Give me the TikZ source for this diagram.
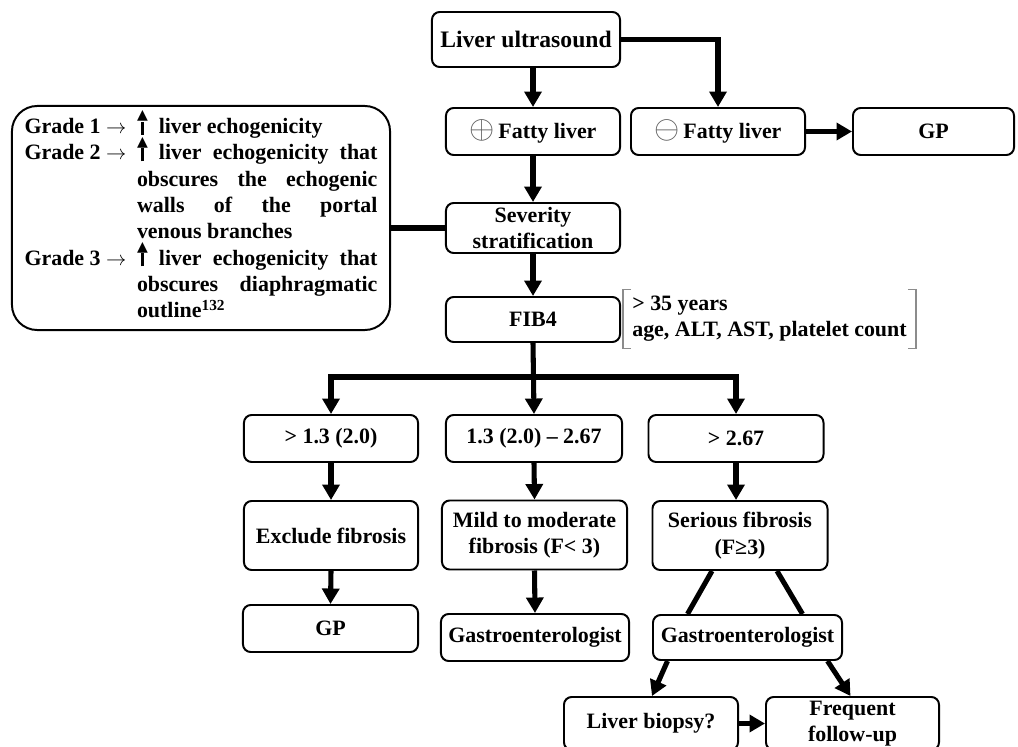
\documentclass[tikz,border=0pt]{standalone}
\usepackage{fontspec}
\setmainfont{Liberation Serif}
\newfontfamily\symfont{DejaVu Sans}
\usepackage{amsmath}
\usepackage{graphicx}
\usetikzlibrary{arrows.meta,calc}
\def\upbold{\raisebox{-1pt}[11pt][0pt]{\vbox{\offinterlineskip\halign{\hfil##\hfil\cr{\symfont\fontsize{10}{10}\selectfont ▲}\cr\rule{2.6pt}{9.5pt}\cr}}}}
\def\circsign#1{\textcolor{black!65}{\scalebox{1.6}{$#1$}}\,}
\def\hangrow#1#2#3{\makebox[80pt][l]{#1}\makebox[171pt][#2]{#3}}
\tikzset{
	box/.style={draw, line width=1.4pt, rounded corners=5.5pt, inner sep=2pt, align=center, font=\fontsize{15.6}{18.7}\selectfont\bfseries},
	note/.style={align=left, inner xsep=6.4pt, minimum height=1.45cm, font=\fontsize{15.6}{18.7}\selectfont\bfseries},
	bracket/.style={draw=black!45, line width=0.8pt},
	flow/.style={line width=3.6pt, -{Triangle[length=11pt,width=12pt]}},
	link/.style={line width=3.6pt},
}

\begin{document}
\begin{tikzpicture}[x=0.025cm, y=-0.025cm]
			%%%%% START %%%%%
			\useasboundingbox (0,0) rectangle (1018,747);
			
			\node[box, minimum width=4.7cm, minimum height=1.375cm, font=\fontsize{16.8}{20}\selectfont\bfseries] (lu) at (526,39.5) {Liver ultrasound};
			\node[box, minimum width=4.35cm, minimum height=1.175cm] (pfat) at (533,131.5) {\circsign{\oplus}Fatty liver};
			\node[box, minimum width=4.35cm, minimum height=1.175cm] (nfat) at (718,131.5) {\circsign{\ominus}Fatty liver};
			\node[box, minimum width=4.025cm, minimum height=1.175cm] (gpa) at (933.5,131.5) {GP};
			
			\node[box, minimum width=4.35cm, minimum height=1.25cm] (sev) at (533,228) {Severity\\stratification};
			\node[box, minimum width=4.35cm, minimum height=1.125cm] (fib) at (533,319.5) {FIB4};
			\node[note, anchor=west] (fibnote) at (623,319) {> 35 years\\age, ALT, AST, platelet count};
			
			\node[box, rounded corners=18pt, minimum width=9.45cm, minimum height=5.6cm, align=left, inner xsep=8.5pt] (grades) at (201,218) {%
				\hangrow{Grade 1 $\rightarrow$}{l}{\upbold\ \ liver echogenicity}\\
				\hangrow{Grade 2 $\rightarrow$}{s}{\upbold\ liver echogenicity that}\\
				\hangrow{}{s}{obscures the echogenic}\\
				\hangrow{}{s}{walls of the portal}\\
				\hangrow{}{l}{venous branches}\\
				\hangrow{Grade 3 $\rightarrow$}{s}{\upbold\ liver echogenicity that}\\
				\hangrow{}{s}{obscures diaphragmatic}\\
				\hangrow{}{l}{outline\textsuperscript{132}}};
			
			\node[box, minimum width=4.35cm, minimum height=1.175cm] (low) at (331,438.5) {> 1.3 (2.0)};
			\node[box, minimum width=4.4cm, minimum height=1.175cm] (mid) at (534,438.5) {1.3 (2.0) -- 2.67};
			\node[box, minimum width=4.375cm, minimum height=1.175cm] (high) at (736,438.5) {> 2.67};
			
			\node[box, minimum width=4.35cm, minimum height=1.725cm] (excl) at (331,535.5) {Exclude fibrosis};
			\node[box, minimum width=4.625cm, minimum height=1.725cm] (mild) at (534.5,535) {Mild to moderate\\fibrosis (F< 3)};
			\node[box, minimum width=4.375cm, minimum height=1.725cm] (serious) at (740,535.5) {Serious fibrosis\\(F≥3)};
			
			\node[box, minimum width=4.375cm, minimum height=1.175cm] (gpb) at (330.5,628.5) {GP};
			\node[box, minimum width=4.7cm, minimum height=1.175cm] (gastroa) at (535,637.5) {Gastroenterologist};
			\node[box, minimum width=4.725cm, minimum height=1.125cm] (gastrob) at (747.5,637.5) {Gastroenterologist};
			
			\node[box, minimum width=4.35cm, minimum height=1.325cm] (biopsy) at (651,723.5) {Liver biopsy?};
			\node[box, minimum width=4.325cm, minimum height=1.325cm] (followup) at (852.5,723.5) {Frequent\\follow-up};
			
			% brackets round the FIB4 note
			\draw[bracket] ($(fibnote.north west)+(8,0)$) -- (fibnote.north west) -- (fibnote.south west) -- ++(8,0);
			\draw[bracket] ($(fibnote.north east)+(-8,0)$) -- (fibnote.north east) -- (fibnote.south east) -- ++(-8,0);
			
			\draw[flow] (pfat.north |- lu.south) -- (pfat.north);
			\draw[flow] (lu.east) -| (nfat.north);
			\draw[flow] (nfat.east) -- (gpa.west);
			\draw[flow] (pfat.south) -- (sev.north);
			\draw[link] (grades.east |- sev.west) -- (sev.west);
			\draw[flow] (sev.south) -- (fib.north);
			
			\coordinate (split) at (533,377);
			\draw[flow] (fib.south) -- (mid.north);
			\draw[flow] (split) -| (low.north);
			\draw[flow] (split) -| (high.north);
			
			\draw[flow] (low.south) -- (excl.north);
			\draw[flow] (mid.south) -- (mild.north);
			\draw[flow] (high.south) -- (high.south |- serious.north);
			\draw[flow] (excl.south) -- (gpb.north);
			\draw[flow] (mild.south) -- (gastroa.north);
			
			\draw[link] ($(serious.south)+(-28,0)$) -- ($(gastrob.north)+(-60,0)$);
			\draw[link] ($(serious.south)+(37,0)$) -- ($(gastrob.north)+(55,0)$);
			\draw[flow] ($(gastrob.south)+(-80,0)$) -- ($(biopsy.north)+(1,0)$);
			\draw[flow] ($(gastrob.south)+(80,0)$) -- ($(followup.north)+(-2,0)$);
			\draw[flow] (biopsy.east) -- (followup.west);
			
			%%%%% END %%%%%
\end{tikzpicture}
\end{document}
